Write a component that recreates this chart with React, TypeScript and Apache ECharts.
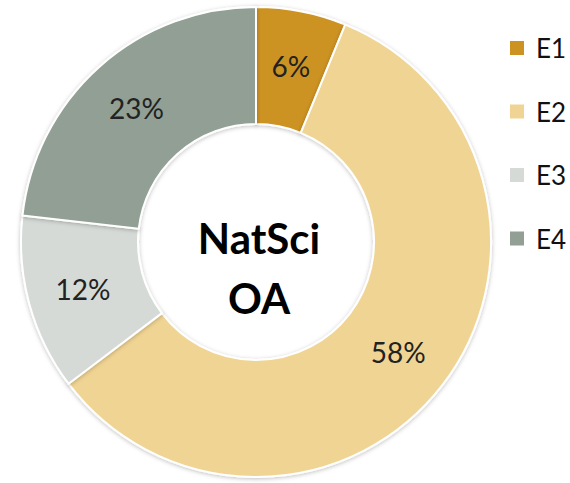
import React, { useEffect, useRef } from "react";
import * as echarts from "echarts";

const categories = ["E1", "E2", "E3", "E4"];
const values = [6.2, 58.5, 12.1, 23.2];
const labels = ["6%", "58%", "12%", "23%"];
const colors = ["#CD9322", "#F0D493", "#D5DAD6", "#919F94"];
const centerLines = ["NatSci", "OA"];

export default function App() {
  const ref = useRef<HTMLDivElement>(null);
  useEffect(() => {
    if (!ref.current) return;
    const chart = echarts.init(ref.current, null, { renderer: "svg" });
    chart.setOption({
      animation: false,
      backgroundColor: "#ffffff",
      legend: {
        orient: "vertical",
        left: 503,
        top: 30,
        icon: "rect",
        itemWidth: 16,
        itemHeight: 16,
        itemGap: 37.5,
        data: categories,
        formatter: "{n|{name}}",
        textStyle: {
          fontFamily: "Lato",
          fontSize: 26,
          color: "#111111",
          rich: {
            n: {
              fontFamily: "Lato",
              fontSize: 26,
              color: "#111111",
              lineHeight: 26,
              padding: [0, 0, 0, 6],
            },
          },
        },
      },
      series: [
        {
          type: "pie",
          center: [256, 242],
          radius: [118, 235],
          startAngle: 90,
          clockwise: true,
          avoidLabelOverlap: false,
          itemStyle: {
            borderColor: "#ffffff",
            borderWidth: 2,
            shadowBlur: 4,
            shadowColor: "rgba(0,0,0,0.25)",
            shadowOffsetY: 1,
          },
          label: {
            show: true,
            position: "inside",
            fontFamily: "Lato",
            fontSize: 28,
            color: "#222222",
            formatter: (p: any) => labels[p.dataIndex],
          },
          labelLine: { show: false },
          data: categories.map((c, i) => ({
            name: c,
            value: values[i],
            itemStyle: { color: colors[i] },
          })),
        },
      ],
      graphic: centerLines.map((t, i) => ({
        type: "text",
        x: 259,
        y: 238 + i * 60,
        style: {
          text: t,
          fontFamily: "Lato",
          fontWeight: "bold",
          fontSize: 42,
          fill: "#000000",
          textAlign: "center",
          textVerticalAlign: "middle",
        },
      })),
    });
    return () => chart.dispose();
  }, []);
  return (
    <div
      ref={ref}
      style={{ position: "fixed", left: 0, top: 0, width: 570, height: 483 }}
    />
  );
}
